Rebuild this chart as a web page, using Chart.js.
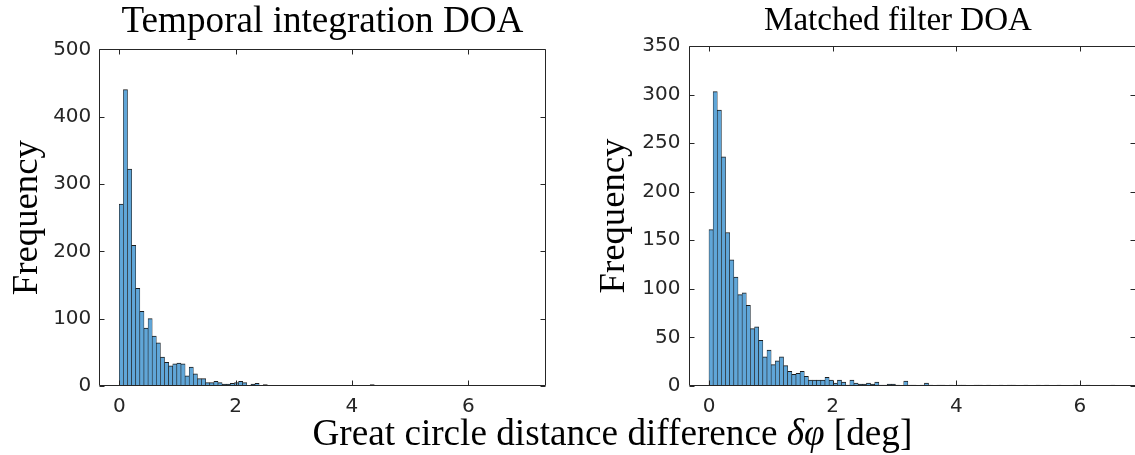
<!DOCTYPE html>
<html><head><meta charset="utf-8">
<script src="https://cdn.jsdelivr.net/npm/chart.js@4.4.1/dist/chart.umd.min.js"></script>
<style>
html,body{margin:0;padding:0;background:#fff;overflow:hidden;width:1135px;height:455px}
canvas{position:absolute;left:0;top:0}
</style></head><body>
<canvas id="c1" width="1135" height="455"></canvas>
<canvas id="c2" width="1140" height="455"></canvas>
<script>
// ---------- data ----------
const leftTitle = "Temporal integration DOA";
const rightTitle = "Matched filter DOA";
const yLabelText = "Frequency";
const xLabelParts = [["Great circle distance difference ", ""], ["δφ", "italic"], [" [deg]", ""]];
const xTickValues = [0, 2, 4, 6];
const leftYTicks = [0, 100, 200, 300, 400, 500];
const rightYTicks = [0, 50, 100, 150, 200, 250, 300, 350];
const leftBinWidth = 0.0707;
const rightBinWidth = 0.067;
const leftCounts = [
  270,440,322,209,145,111,86,100,74,64,
  43,35,30,33,34,33,15,28,18,11,
  11,5,5,7,5,3,3,4,5,7,
  5,1,3,4,1,2,1,0,1,0,
  0,1,1,1,1,0,1,1,0,0,
  0,1,1,1,1,0,1,1,1,1,
  0,2,1,1,0,1,1,1,1,1,
  1,0,1,1,1,1,0,0,1,1,
  0,1,0,0,1,0,0,1,0,0,
  0,1,0,0,0,0,1,1
];
const rightCounts = [
  161,303,284,236,158,130,112,94,96,83,
  59,61,47,30,37,22,26,30,21,15,
  12,13,15,10,6,6,6,6,9,6,
  3,6,4,1,6,3,2,2,3,2,
  4,1,1,2,2,1,0,5,1,1,
  0,1,3,1,0,1,1,0,1,0,
  1,1,0,0,1,1,0,1,0,0,
  1,0,1,1,0,0,1,0,0,1,
  0,1,0,0,1,0,0,0,1,0,
  0,1,0,0,0,0,0,1
];

// ---------- styling ----------
const AX = '#262626';
const BAR_FILL = 'rgb(96,166,216)';
const BAR_EDGE = '#1c1c1c';
const SERIF = '"Liberation Serif", "DejaVu Serif", serif';
const SANS = '"DejaVu Sans", sans-serif';

function fitSize(ctx, parts, targetW) {
  let w = 0;
  for (const [t, st] of parts) { ctx.font = `${st} 30px ${SERIF}`; w += ctx.measureText(t).width; }
  return 30 * targetW / w;
}
function drawParts(ctx, parts, cx, y, targetW) {
  const size = fitSize(ctx, parts, targetW);
  let x = cx - targetW / 2;
  ctx.fillStyle = '#000';
  ctx.textBaseline = 'alphabetic';
  ctx.textAlign = 'left';
  for (const [t, st] of parts) {
    ctx.font = `${st} ${size}px ${SERIF}`;
    ctx.fillText(t, x, y);
    x += ctx.measureText(t).width;
  }
}

function makeChart(id, counts, binW, yTicks, area, xMin, xMax, cfg) {
  const canvas = document.getElementById(id);
  const W = canvas.width, H = canvas.height;
  const pts = counts.map((c, i) => ({x: (i + 0.5) * binW, y: c}));
  const boxPlugin = {
    id: 'box' + id,
    afterDraw(chart) {
      const ctx = chart.ctx, a = chart.chartArea;
      const xs = chart.scales.x, ys = chart.scales.y;
      ctx.save();
      ctx.strokeStyle = AX; ctx.lineWidth = 1;
      const L = Math.round(a.left) + 0.5, R = Math.round(a.right) - 0.5;
      const T = Math.round(a.top) + 0.5, B = Math.round(a.bottom) - 0.5;
      ctx.beginPath();
      ctx.moveTo(L, B); ctx.lineTo(L, T); ctx.lineTo(R, T); ctx.lineTo(R, B); ctx.lineTo(L, B);
      const tl = 5;
      for (const v of xTickValues) {
        const px = Math.round(xs.getPixelForValue(v)) + 0.5;
        ctx.moveTo(px, B); ctx.lineTo(px, B - tl);
        ctx.moveTo(px, T); ctx.lineTo(px, T + tl);
      }
      for (const v of yTicks) {
        const py = Math.round(ys.getPixelForValue(v)) + 0.5;
        ctx.moveTo(L, py); ctx.lineTo(L + tl, py);
        ctx.moveTo(R, py); ctx.lineTo(R - tl, py);
      }
      ctx.stroke();
      // title
      drawParts(ctx, [[cfg.title, ""]], cfg.titleCx, cfg.titleY, cfg.titleW);
      // y label
      ctx.save();
      ctx.translate(cfg.ylabX, (a.top + a.bottom) / 2);
      ctx.rotate(-Math.PI / 2);
      drawParts(ctx, [[yLabelText, ""]], 0, 0, cfg.ylabW);
      ctx.restore();
      if (cfg.xlabel) drawParts(ctx, xLabelParts, cfg.xlabel.cx, cfg.xlabel.y, cfg.xlabel.w);
      ctx.restore();
    }
  };
  return new Chart(canvas, {
    type: 'bar',
    data: { datasets: [{
      data: pts,
      backgroundColor: BAR_FILL,
      borderColor: BAR_EDGE,
      borderWidth: {top: 1, left: 0.6, right: 0.6, bottom: 0},
      borderSkipped: 'start',
      barPercentage: 1.0,
      categoryPercentage: 1.0
    }]},
    options: {
      responsive: false,
      animation: false,
      devicePixelRatio: 1,
      layout: { padding: { left: area.padLeft, top: area.top, right: W - area.right, bottom: 0 } },
      plugins: { legend: {display: false}, tooltip: {enabled: false}, title: {display: false} },
      scales: {
        x: {
          type: 'linear', min: xMin, max: xMax, offset: false,
          grid: { display: false, drawTicks: false },
          border: { display: false },
          afterFit(s) { s.height = H - area.bottom; },
          afterBuildTicks(s) { s.ticks = xTickValues.map(v => ({value: v})); },
          ticks: { padding: 9, color: AX, font: {family: SANS, size: 20}, maxRotation: 0, autoSkip: false,
                   callback: v => String(v) }
        },
        y: {
          min: yTicks[0], max: yTicks[yTicks.length - 1],
          grid: { display: false, drawTicks: false },
          border: { display: false },
          afterFit(s) { s.width = area.left - area.padLeft; },
          afterBuildTicks(s) { s.ticks = yTicks.map(v => ({value: v})); },
          ticks: { padding: 8, color: AX, font: {family: SANS, size: 20}, autoSkip: false,
                   callback: v => String(v) }
        }
      }
    },
    plugins: [boxPlugin]
  });
}

// left: x=0 at 119.3px, 58.17 px/unit; right: x=0 at 709px, 61.83 px/unit
makeChart('c1', leftCounts, leftBinWidth, leftYTicks,
  {padLeft: 0, left: 99.3, right: 546, top: 49.3, bottom: 386},
  -20 / 58.17, (546 - 119.3) / 58.17,
  {title: leftTitle, titleCx: 322.5, titleY: 32, titleW: 402, ylabX: 37, ylabW: 155,
   xlabel: {cx: 612.5, y: 445, w: 600}});
makeChart('c2', rightCounts, rightBinWidth, rightYTicks,
  {padLeft: 560, left: 688.5, right: 1136, top: 46, bottom: 386},
  -20.5 / 61.83, (1136 - 709) / 61.83,
  {title: rightTitle, titleCx: 898, titleY: 30, titleW: 268, ylabX: 624, ylabW: 155});
</script>
</body></html>
